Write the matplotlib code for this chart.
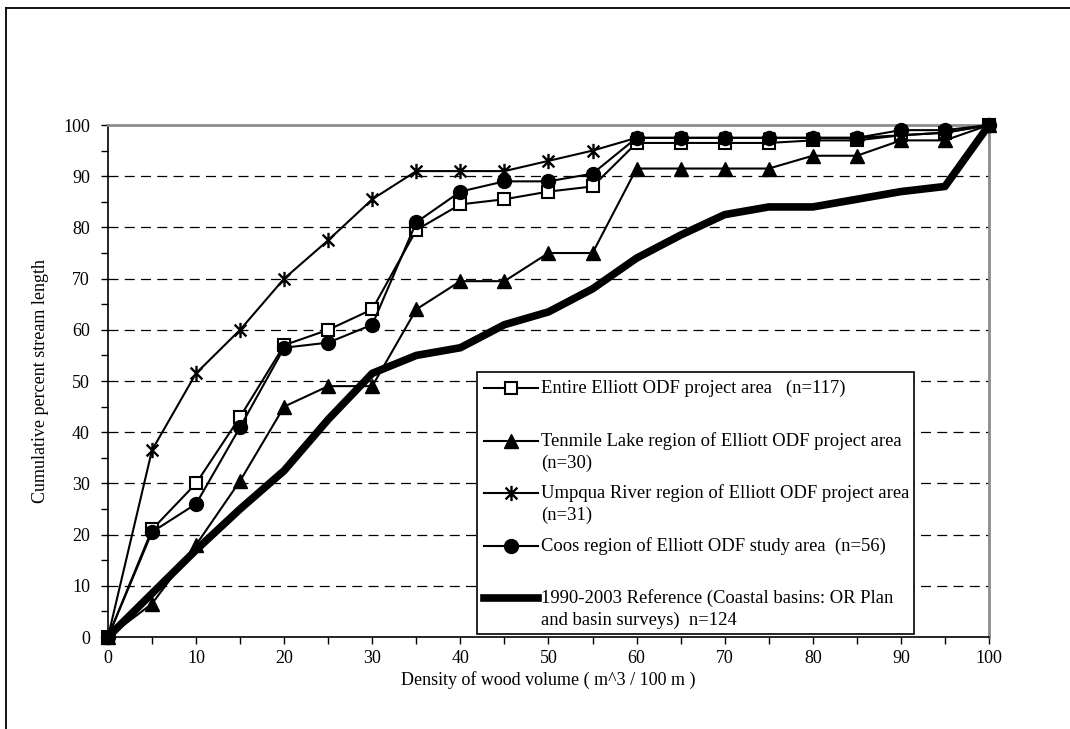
import numpy as np
import matplotlib
matplotlib.use("Agg")
import matplotlib.pyplot as plt
from matplotlib.path import Path
from matplotlib.lines import Line2D
from matplotlib.patches import Rectangle

plt.rcParams['font.family'] = ['Liberation Serif', 'DejaVu Serif']

# wood volume classes (m^3 / 100 m)
density = [0, 5, 10, 15, 20, 25, 30, 35, 40, 45, 50, 55, 60, 65, 70, 75, 80, 85, 90, 95, 100]

# cumulative percent of stream length
entire = [0, 21, 30, 43, 57, 60, 64, 79.5, 84.5, 85.5, 87, 88, 96.5, 96.5, 96.5, 96.5, 97, 97, 98, 98.5, 100]
tenmile = [0, 6.5, 18, 30.5, 45, 49, 49, 64, 69.5, 69.5, 75, 75, 91.5, 91.5, 91.5, 91.5, 94, 94, 97, 97, 100]
umpqua = [0, 36.5, 51.5, 60, 70, 77.5, 85.5, 91, 91, 91, 93, 95, 97.5, 97.5, 97.5, 97.5, 97.5, 97.5, 98, 98.5, 100]
coos = [0, 20.5, 26, 41, 56.5, 57.5, 61, 81, 87, 89, 89, 90.5, 97.5, 97.5, 97.5, 97.5, 97.5, 97.5, 99, 99, 100]
reference = [0, 8.5, 17, 25, 32.5, 42.5, 51.5, 55, 56.5, 61, 63.5, 68, 74, 78.5, 82.5, 84, 84, 85.5, 87, 88, 100]

labels = [
    ("Entire Elliott ODF project area   (n=117)", ""),
    ("Tenmile Lake region of Elliott ODF project area", "(n=30)"),
    ("Umpqua River region of Elliott ODF project area", "(n=31)"),
    ("Coos region of Elliott ODF study area  (n=56)", ""),
    ("1990-2003 Reference (Coastal basins: OR Plan", "and basin surveys)  n=124"),
]

# Excel-style asterisk: an X crossed by a vertical bar
star = Path([(-1, -1), (1, 1), (-1, 1), (1, -1), (0, -1.3), (0, 1.3)],
            [Path.MOVETO, Path.LINETO, Path.MOVETO, Path.LINETO, Path.MOVETO, Path.LINETO])

styles = [
    dict(marker='s', ms=9, mfc='white', mec='black', mew=1.5, lw=1.5),
    dict(marker='^', ms=10, mfc='black', mec='black', lw=1.5),
    dict(marker=star, ms=11, mfc='none', mec='black', mew=1.7, lw=1.5),
    dict(marker='o', ms=10, mfc='black', mec='black', lw=1.5),
    dict(marker=None, lw=5.5),
]
series = [entire, tenmile, umpqua, coos, reference]

fig = plt.figure(figsize=(10.7, 7.29), dpi=100)
ax = fig.add_axes([0.1009, 0.1262, 0.8234, 0.7023])

# chart frame, cut off at the right and bottom
fig.add_artist(Line2D([6 / 1070, 1.0], [1 - 8 / 729, 1 - 8 / 729], color='black', lw=1.3))
fig.add_artist(Line2D([6 / 1070, 6 / 1070], [0, 1 - 8 / 729], color='black', lw=1.3))

for y in range(10, 100, 10):
    ax.axhline(y, color='black', lw=0.9, dashes=(8, 5), zorder=1)

for vals, st in zip(series, styles):
    ax.plot(density, vals, color='black', clip_on=False, zorder=3, **st)

ax.set_xlim(0, 100)
ax.set_ylim(0, 100)
ax.set_xticks(range(0, 101, 10))
ax.set_xticks(range(0, 101, 5), minor=True)
ax.set_yticks(range(0, 101, 10))
ax.set_yticks(range(0, 101, 5), minor=True)
ax.tick_params(which='both', direction='out', length=5, width=1, labelsize=13)
ax.tick_params(axis='y', pad=8)
ax.tick_params(axis='x', pad=4)
for side in ('top', 'right'):
    ax.spines[side].set_color('#8c8c8c')
    ax.spines[side].set_linewidth(2)
for side in ('left', 'bottom'):
    ax.spines[side].set_color('black')
    ax.spines[side].set_linewidth(1.2)

ax.set_xlabel("Density of wood volume ( m^3 / 100 m )", fontsize=13, labelpad=3)
ax.set_ylabel("Cumulative percent stream length", fontsize=13, labelpad=10)

# legend box drawn in axes coordinates
ax.add_patch(Rectangle((0.419, 0.006), 0.496, 0.512, transform=ax.transAxes,
                       facecolor='white', edgecolor='black', lw=1.2, zorder=4))
px = lambda x: (x - 108) / 881
py = lambda y: (637 - y) / 512
rows = [388, 441, 493, 546, 598]
for (l1, l2), st, yy in zip(labels, styles, rows):
    h = Line2D([px(484), px(538)], [py(yy), py(yy)], color='black',
               transform=ax.transAxes, lw=st['lw'], zorder=5)
    ax.add_artist(h)
    if st['marker'] is not None:
        m = Line2D([px(511)], [py(yy)], color='black', transform=ax.transAxes, zorder=6,
                   **{k: v for k, v in st.items() if k != 'lw'})
        ax.add_artist(m)
    ax.text(px(541), py(yy), l1, transform=ax.transAxes, fontsize=13.4,
            va='center', ha='left', zorder=6)
    if l2:
        ax.text(px(541), py(yy + 22), l2, transform=ax.transAxes, fontsize=13.4,
                va='center', ha='left', zorder=6)

fig.savefig("out.png", dpi=100)
